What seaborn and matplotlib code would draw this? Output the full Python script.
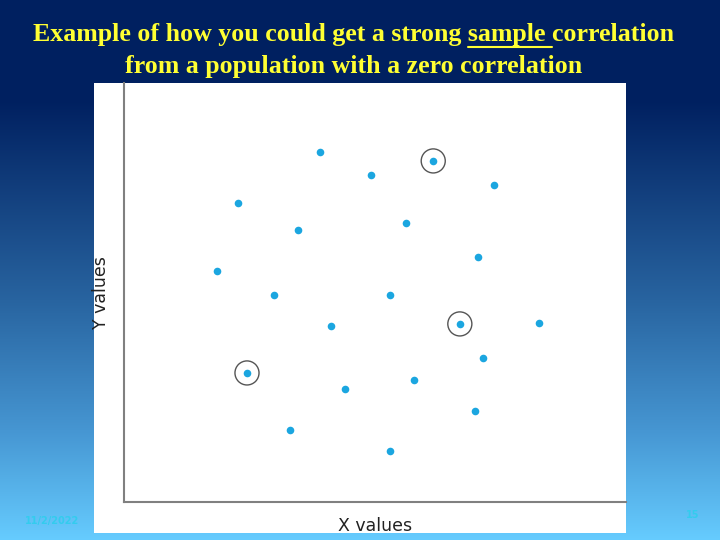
import numpy as np
import matplotlib
matplotlib.use("Agg")
import matplotlib.pyplot as plt
import seaborn as sns
import pandas as pd
from matplotlib.patches import Rectangle
from matplotlib.lines import Line2D

# ---- data ----
x_vals = [3.90, 4.92, 6.16, 7.37, 2.27, 3.47, 5.62, 7.05, 1.85, 2.99, 5.30,
          4.12, 6.69, 8.27, 7.15, 2.45, 4.40, 5.78, 6.99, 3.31, 5.30]
y_vals = [8.35, 7.80, 8.14, 7.57, 7.14, 6.49, 6.66, 5.85, 5.51, 4.94, 4.94,
          4.20, 4.25, 4.27, 3.44, 3.08, 2.70, 2.91, 2.17, 1.72, 1.22]
circled = [False, False, True, False, False, False, False, False, False, False, False,
           False, True, False, False, True, False, False, False, False, False]

title_line1_pre = "Example of how you could get a strong "
title_line1_ul = "sample "
title_line1_post = "correlation"
title_line2 = "from a population with a zero correlation"
x_label = "X values"
y_label = "Y values"
footer_date = "11/2/2022"
footer_page = "15"

df = pd.DataFrame({"x": x_vals, "y": y_vals, "circled": circled})

sns.set_theme(style="white")
plt.rcParams["font.family"] = ["DejaVu Sans"]

W, H = 720, 540
fig = plt.figure(figsize=(7.2, 5.4), dpi=100)

# ---- gradient slide background ----
bg = fig.add_axes([0, 0, 1, 1], zorder=-10)
rows = np.arange(H)
stops_y = [0, 100, 300, 430, 540]
stops_c = np.array([[0, 32, 96], [0, 32, 96], [40, 100, 160], [70, 150, 210], [102, 204, 255]]) / 255.0
grad = np.stack([np.interp(rows, stops_y, stops_c[:, k]) for k in range(3)], axis=1)
img = np.repeat(grad[:, None, :], 4, axis=1)
bg.imshow(img, aspect="auto", extent=[0, 1, 0, 1], origin="upper")
bg.set_axis_off()

# ---- white picture panel ----
panel = Rectangle((94 / W, 1 - 533 / H), (626 - 94) / W, (533 - 83) / H,
                  transform=fig.transFigure, facecolor="white", edgecolor="none", zorder=-5)
fig.patches.append(panel)

# ---- scatter axes ----
ax = fig.add_axes([124 / W, 1 - 502 / H, 502 / W, 419 / H])
ax.set_facecolor("white")
sns.scatterplot(data=df, x="x", y="y", color="#1ba6e0", s=30, linewidth=0, ax=ax, zorder=3)
sns.scatterplot(data=df[df["circled"]], x="x", y="y", s=300, facecolors="none",
                edgecolor="#555555", linewidth=1.0, ax=ax, zorder=2)
ax.set_xlim(0, 10)
ax.set_ylim(0, 10)
ax.set_xticks([])
ax.set_yticks([])
for s in ["top", "right"]:
    ax.spines[s].set_visible(False)
for s in ["left", "bottom"]:
    ax.spines[s].set_color("#808080")
    ax.spines[s].set_linewidth(1.5)

ax.set_xlabel(x_label, fontsize=12.5, color="#222222", va="center")
ax.xaxis.set_label_coords(0.5, -(526 - 502) / 419)
ax.set_ylabel(y_label, fontsize=12.5, color="#222222", va="center")
ax.yaxis.set_label_coords(-(124 - 101) / 502, 0.5)

# ---- title ----
tkw = dict(color="#ffff33", fontfamily="Liberation Serif", fontweight="bold", fontsize=18.6,
           ha="center", va="center")
full1 = title_line1_pre + title_line1_ul + title_line1_post
t1 = fig.text(354 / W, 1 - 35 / H, full1, **tkw)
fig.text(354 / W, 1 - 66 / H, title_line2, **tkw)

# underline of "sample "
fig.canvas.draw()
r = fig.canvas.get_renderer()
bb = t1.get_window_extent(r)
tmp = fig.text(0, 0, title_line1_pre, **{**tkw, "ha": "left"})
w_pre = tmp.get_window_extent(r).width
tmp.set_text(title_line1_pre + title_line1_ul)
w_ul = tmp.get_window_extent(r).width
tmp.remove()
x0 = (bb.x0 + w_pre) / W
x1 = (bb.x0 + w_ul) / W
yl = 1 - 46.5 / H
fig.add_artist(Line2D([x0, x1], [yl, yl], transform=fig.transFigure, color="#ffff33", linewidth=1.5))

# ---- footer ----
fig.text(25 / W, 1 - 521 / H, footer_date, fontsize=7, color="#33ccee", fontweight="bold",
         ha="left", va="center")
fig.text(693 / W, 1 - 515 / H, footer_page, fontsize=7, color="#33ccee", fontweight="bold",
         ha="center", va="center")

fig.savefig("out.png", dpi=100)
